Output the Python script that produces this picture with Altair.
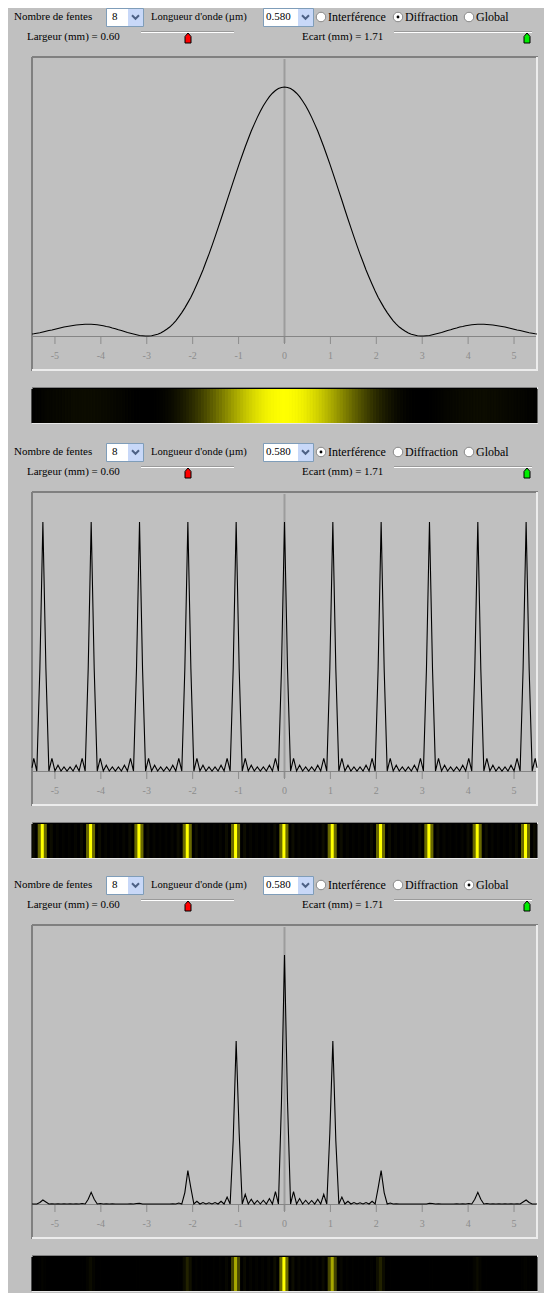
import altair as alt
import pandas as pd

# ---------------- data ----------------
# screen position along the observation axis (mm)
X = [
    -5.5, -5.461, -5.395, -5.329,
    -5.263, -5.197, -5.132, -5.066, -5.0, -4.934, -4.868, -4.803, -4.737, -4.671, -4.605, -4.539, -4.474, -4.408, -4.342, -4.276,
    -4.211, -4.145, -4.079, -4.013, -3.947, -3.882, -3.816, -3.75, -3.684, -3.618, -3.553, -3.487, -3.421, -3.355, -3.289, -3.224,
    -3.158, -3.092, -3.026, -2.961, -2.895, -2.829, -2.763, -2.697, -2.632, -2.566, -2.5, -2.434, -2.368, -2.303, -2.237, -2.171,
    -2.105, -2.039, -1.974, -1.908, -1.842, -1.776, -1.711, -1.645, -1.579, -1.513, -1.447, -1.382, -1.316, -1.25, -1.184, -1.118,
    -1.053, -0.987, -0.921, -0.855, -0.789, -0.724, -0.658, -0.592, -0.526, -0.461, -0.395, -0.329, -0.263, -0.197, -0.132, -0.066,
    0.0, 0.066, 0.132, 0.197, 0.263, 0.329, 0.395, 0.461, 0.526, 0.592, 0.658, 0.724, 0.789, 0.855, 0.921, 0.987,
    1.053, 1.118, 1.184, 1.25, 1.316, 1.382, 1.447, 1.513, 1.579, 1.645, 1.711, 1.776, 1.842, 1.908, 1.974, 2.039,
    2.105, 2.171, 2.237, 2.303, 2.368, 2.434, 2.5, 2.566, 2.632, 2.697, 2.763, 2.829, 2.895, 2.961, 3.026, 3.092,
    3.158, 3.224, 3.289, 3.355, 3.421, 3.487, 3.553, 3.618, 3.684, 3.75, 3.816, 3.882, 3.947, 4.013, 4.079, 4.145,
    4.211, 4.276, 4.342, 4.408, 4.474, 4.539, 4.605, 4.671, 4.737, 4.803, 4.868, 4.934, 5.0, 5.066, 5.132, 5.197,
    5.263, 5.329, 5.395, 5.461, 5.5,
]

# relative intensity, panel 1 (Diffraction)
DIFFRACTION = [
    0.008, 0.009, 0.011, 0.013,
    0.016, 0.019, 0.022, 0.024, 0.027, 0.030, 0.033, 0.036, 0.038, 0.040, 0.042, 0.044, 0.045, 0.046, 0.047, 0.047,
    0.047, 0.046, 0.045, 0.043, 0.041, 0.038, 0.036, 0.032, 0.029, 0.025, 0.022, 0.018, 0.014, 0.011, 0.008, 0.005,
    0.002, 0.001, 0.0, 0.0, 0.001, 0.004, 0.007, 0.012, 0.019, 0.027, 0.036, 0.048, 0.061, 0.077, 0.094, 0.113,
    0.134, 0.156, 0.181, 0.208, 0.236, 0.265, 0.297, 0.329, 0.363, 0.398, 0.434, 0.470, 0.507, 0.545, 0.582, 0.619,
    0.655, 0.691, 0.726, 0.760, 0.792, 0.823, 0.851, 0.878, 0.903, 0.925, 0.944, 0.961, 0.975, 0.986, 0.994, 0.998,
    1.0, 0.998, 0.994, 0.986, 0.975, 0.961, 0.944, 0.925, 0.903, 0.878, 0.851, 0.823, 0.792, 0.760, 0.726, 0.691,
    0.655, 0.619, 0.582, 0.545, 0.507, 0.470, 0.434, 0.398, 0.363, 0.329, 0.297, 0.265, 0.236, 0.208, 0.181, 0.156,
    0.134, 0.113, 0.094, 0.077, 0.061, 0.048, 0.036, 0.027, 0.019, 0.012, 0.007, 0.004, 0.001, 0.0, 0.0, 0.001,
    0.002, 0.005, 0.008, 0.011, 0.014, 0.018, 0.022, 0.025, 0.029, 0.032, 0.036, 0.038, 0.041, 0.043, 0.045, 0.046,
    0.047, 0.047, 0.047, 0.046, 0.045, 0.044, 0.042, 0.040, 0.038, 0.036, 0.033, 0.030, 0.027, 0.024, 0.022, 0.019,
    0.016, 0.013, 0.011, 0.009, 0.008,
]

# relative intensity, panel 2 (Interférence)
INTERFERENCE = [
    0.013, 0.051, 0.0, 0.41,
    1.0, 0.41, 0.0, 0.051, 0.0, 0.023, 0.0, 0.016, 0.0, 0.016, 0.0, 0.023, 0.0, 0.051, 0.0, 0.41,
    1.0, 0.41, 0.0, 0.051, 0.0, 0.023, 0.0, 0.016, 0.0, 0.016, 0.0, 0.023, 0.0, 0.051, 0.0, 0.41,
    1.0, 0.41, 0.0, 0.051, 0.0, 0.023, 0.0, 0.016, 0.0, 0.016, 0.0, 0.023, 0.0, 0.051, 0.0, 0.41,
    1.0, 0.41, 0.0, 0.051, 0.0, 0.023, 0.0, 0.016, 0.0, 0.016, 0.0, 0.023, 0.0, 0.051, 0.0, 0.41,
    1.0, 0.41, 0.0, 0.051, 0.0, 0.023, 0.0, 0.016, 0.0, 0.016, 0.0, 0.023, 0.0, 0.051, 0.0, 0.41,
    1.0, 0.41, 0.0, 0.051, 0.0, 0.023, 0.0, 0.016, 0.0, 0.016, 0.0, 0.023, 0.0, 0.051, 0.0, 0.41,
    1.0, 0.41, 0.0, 0.051, 0.0, 0.023, 0.0, 0.016, 0.0, 0.016, 0.0, 0.023, 0.0, 0.051, 0.0, 0.41,
    1.0, 0.41, 0.0, 0.051, 0.0, 0.023, 0.0, 0.016, 0.0, 0.016, 0.0, 0.023, 0.0, 0.051, 0.0, 0.41,
    1.0, 0.41, 0.0, 0.051, 0.0, 0.023, 0.0, 0.016, 0.0, 0.016, 0.0, 0.023, 0.0, 0.051, 0.0, 0.41,
    1.0, 0.41, 0.0, 0.051, 0.0, 0.023, 0.0, 0.016, 0.0, 0.016, 0.0, 0.023, 0.0, 0.051, 0.0, 0.41,
    1.0, 0.41, 0.0, 0.051, 0.013,
]

# relative intensity, panel 3 (Global)
GLOBAL = [
    0.0, 0.0, 0.0, 0.006,
    0.016, 0.008, 0.0, 0.001, 0.0, 0.001, 0.0, 0.001, 0.0, 0.001, 0.0, 0.001, 0.0, 0.002, 0.0, 0.019,
    0.047, 0.019, 0.0, 0.002, 0.0, 0.001, 0.0, 0.001, 0.0, 0.0, 0.0, 0.0, 0.0, 0.001, 0.0, 0.002,
    0.003, 0.0, 0.0, 0.0, 0.0, 0.0, 0.0, 0.0, 0.0, 0.0, 0.0, 0.001, 0.0, 0.004, 0.0, 0.046,
    0.134, 0.064, 0.0, 0.011, 0.0, 0.006, 0.0, 0.005, 0.0, 0.006, 0.0, 0.011, 0.0, 0.028, 0.0, 0.254,
    0.655, 0.283, 0.0, 0.039, 0.0, 0.019, 0.0, 0.014, 0.0, 0.015, 0.0, 0.022, 0.0, 0.050, 0.0, 0.409,
    1.0, 0.409, 0.0, 0.050, 0.0, 0.022, 0.0, 0.015, 0.0, 0.014, 0.0, 0.019, 0.0, 0.039, 0.0, 0.283,
    0.655, 0.254, 0.0, 0.028, 0.0, 0.011, 0.0, 0.006, 0.0, 0.005, 0.0, 0.006, 0.0, 0.011, 0.0, 0.064,
    0.134, 0.046, 0.0, 0.004, 0.0, 0.001, 0.0, 0.0, 0.0, 0.0, 0.0, 0.0, 0.0, 0.0, 0.0, 0.0,
    0.003, 0.002, 0.0, 0.001, 0.0, 0.0, 0.0, 0.0, 0.0, 0.001, 0.0, 0.001, 0.0, 0.002, 0.0, 0.019,
    0.047, 0.019, 0.0, 0.002, 0.0, 0.001, 0.0, 0.001, 0.0, 0.001, 0.0, 0.001, 0.0, 0.001, 0.0, 0.008,
    0.016, 0.006, 0.0, 0.0, 0.0,
]

TICKS = [-5, -4, -3, -2, -1, 0, 1, 2, 3, 4, 5]
TICK_LABELS = ["-5", "-4", "-3", "-2", "-1", "0", "1", "2", "3", "4", "5"]
MODES = ["Interférence", "Diffraction", "Global"]
NB_FENTES = "8"
LONGUEUR = "0.580"
LARGEUR = "0.60"
ECART = "1.71"

# ---------------- styling ----------------
BG = "#c0c0c0"
FONT = "Liberation Serif"
W = 536
ONE = pd.DataFrame({"k": [0]})


def cell_bounds(xs):
    lo, hi = [], []
    n = len(xs)
    for i in range(n):
        lo.append(xs[0] if i == 0 else (xs[i - 1] + xs[i]) / 2)
        hi.append(xs[-1] if i == n - 1 else (xs[i] + xs[i + 1]) / 2)
    return lo, hi


X0, X1 = cell_bounds(X)


def make_panel(values, selected, dy, height):
    def Y(v):
        return v + dy

    def XP(v):
        return v - 8

    xs = alt.Scale(domain=[-5.5, 5.5], range=[XP(32), XP(537)], nice=False, zero=False)
    ys = alt.Scale(domain=[0, 1], range=[Y(336), Y(87)], nice=False, zero=False)
    df = pd.DataFrame({"x": X, "v": values, "x0": X0, "x1": X1})
    tk = pd.DataFrame({"t": TICKS, "lab": TICK_LABELS})
    layers = []

    def rule(x1, y1, x2, y2, color, w=1):
        layers.append(alt.Chart(ONE).mark_rule(color=color, strokeWidth=w).encode(
            x=alt.value(XP(x1)), x2=alt.value(XP(x2)), y=alt.value(Y(y1)), y2=alt.value(Y(y2))))

    def rect(x1, y1, x2, y2, fill, stroke=None, sw=1):
        kw = {"color": fill}
        if stroke is not None:
            kw.update(stroke=stroke, strokeWidth=sw)
        layers.append(alt.Chart(ONE).mark_rect(**kw).encode(
            x=alt.value(XP(x1)), x2=alt.value(XP(x2)), y=alt.value(Y(y1)), y2=alt.value(Y(y2))))

    def text(s, x, y, size=11, color="#000000", align="left"):
        layers.append(alt.Chart(ONE).mark_text(text=s, font=FONT, fontSize=size, color=color,
                                               align=align, baseline="middle").encode(
            x=alt.value(XP(x)), y=alt.value(Y(y))))

    def sym(shape, x, y, size, fill=None, stroke=None, sw=1):
        kw = {"shape": shape, "size": size, "opacity": 1, "filled": fill is not None}
        if fill is not None:
            kw["fill"] = fill
            kw["fillOpacity"] = 1
        if stroke is not None:
            kw["stroke"] = stroke
            kw["strokeWidth"] = sw
        layers.append(alt.Chart(ONE).mark_point(**kw).encode(x=alt.value(XP(x)), y=alt.value(Y(y))))

    # ----- header: controls -----
    text("Nombre de fentes", 14, 17)
    rect(106.5, 8.5, 143.5, 26.5, "#ffffff", "#7f9db9", 1)
    rect(128, 9, 143, 26, "#c8d8f8")
    text(NB_FENTES, 112, 17)
    sym("M-1,-0.5L0,0.5L1,-0.5", 135.5, 17, 49, stroke="#4d6185", sw=2)
    text("Longueur d'onde (µm)", 151, 17, size=10.6)
    rect(263.5, 8.5, 313.5, 26.5, "#ffffff", "#7f9db9", 1)
    rect(298, 9, 313, 26, "#c8d8f8")
    text(LONGUEUR, 266, 17)
    sym("M-1,-0.5L0,0.5L1,-0.5", 305.5, 17, 49, stroke="#4d6185", sw=2)
    radio_x = [321, 398, 469]
    for m, cx in zip(MODES, radio_x):
        sym("circle", cx, 17, 90, fill="#ffffff", stroke="#8a8a8a", sw=1)
        if m == selected:
            sym("circle", cx, 17, 8, fill="#000000")
        text(m, cx + 7, 17, size=12)

    text("Largeur (mm) = " + LARGEUR, 27, 37)
    rule(141, 31.5, 234, 31.5, "#9a9a9a")
    rule(141, 32.5, 234, 32.5, "#ffffff")
    sym("M-0.6,1L0.6,1L0.6,-0.3L0,-1L-0.6,-0.3Z", 188, 38, 100, fill="#ff0000", stroke="#000000", sw=1)
    text("Ecart (mm) = " + ECART, 302, 37)
    rule(394, 31.5, 532, 31.5, "#9a9a9a")
    rule(394, 32.5, 532, 32.5, "#ffffff")
    sym("M-0.6,1L0.6,1L0.6,-0.3L0,-1L-0.6,-0.3Z", 527, 38, 100, fill="#00ee00", stroke="#000000", sw=1)

    # ----- plot frame -----
    rule(32, 57, 538, 57, "#808080", 2)
    rule(32, 57, 32, 371, "#808080", 2)
    rule(537, 57, 537, 371, "#ececec", 2)
    rule(32, 370, 538, 370, "#ececec", 2)

    # zero line
    layers.append(alt.Chart(tk).transform_filter("datum.t == 0").mark_rule(
        color="#9c9c9c", strokeWidth=2).encode(
        x=alt.X("t:Q", scale=xs, axis=None), y=alt.value(Y(59)), y2=alt.value(Y(343))))
    # baseline
    rule(33, 336.5, 536, 336.5, "#858585")
    # ticks
    layers.append(alt.Chart(tk).mark_rule(color="#8c8c8c", strokeWidth=1).encode(
        x=alt.X("t:Q", scale=xs, axis=None), y=alt.value(Y(337)), y2=alt.value(Y(344))))
    layers.append(alt.Chart(tk).mark_text(font=FONT, fontSize=10, color="#8c8c8c",
                                          baseline="middle", align="center").encode(
        x=alt.X("t:Q", scale=xs, axis=None), y=alt.value(Y(356)), text="lab:N"))

    # curve
    layers.append(alt.Chart(df).mark_line(color="#000000", strokeWidth=1.1).encode(
        x=alt.X("x:Q", scale=xs, axis=None), y=alt.Y("v:Q", scale=ys, axis=None)))

    # ----- colour strip -----
    rect(32, 387, 538, 424, "#e8e8e8")
    rect(32, 387, 537, 423, "#808080")
    rect(33, 388, 537, 423, "#000000")
    cscale = alt.Scale(domain=[0, 1], range=["#000000", "#ffff00"], interpolate="rgb")
    layers.append(alt.Chart(df).mark_rect(strokeWidth=1.2).encode(
        x=alt.X("x0:Q", scale=xs, axis=None), x2="x1:Q",
        y=alt.value(Y(389.6)), y2=alt.value(Y(422.4)),
        color=alt.Color("v:Q", scale=cscale, legend=None),
        stroke=alt.Stroke("v:Q", scale=cscale, legend=None)))

    return alt.layer(*layers).properties(width=W, height=height)


p1 = make_panel(DIFFRACTION, "Diffraction", -8, 427)
p2 = make_panel(INTERFERENCE, "Interférence", 0, 433)
p3 = make_panel(GLOBAL, "Global", 0, 425)

chart = alt.vconcat(p1, p2, p3, spacing=0, bounds="flush").properties(
    padding={"left": 0, "top": 0, "right": 0, "bottom": 0},
    background=BG,
).configure_view(strokeWidth=0)

chart.save("out.html", embed_options={"renderer": "svg", "actions": False})
